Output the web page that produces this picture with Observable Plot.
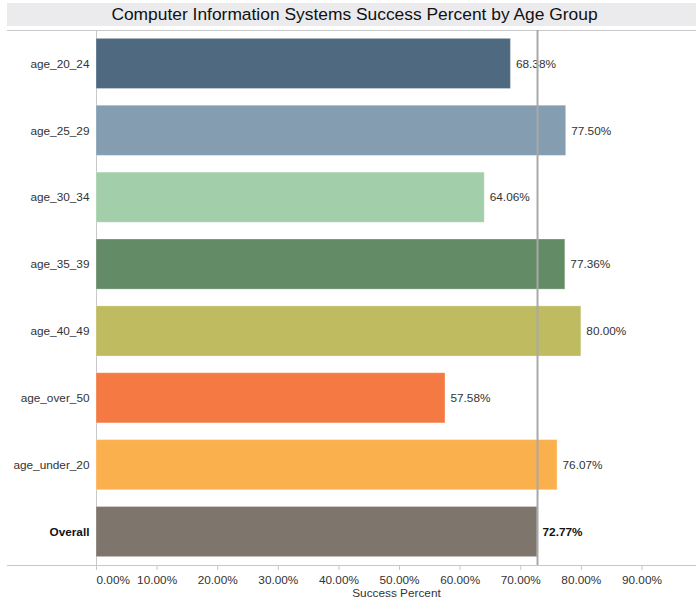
<!DOCTYPE html>
<html><head><meta charset="utf-8">
<script src="https://cdn.jsdelivr.net/npm/d3@7"></script>
<script src="https://cdn.jsdelivr.net/npm/@observablehq/plot@0.6"></script>
<style>
body{margin:0;background:#fff;font-family:"Liberation Sans",Arial,Helvetica,sans-serif;}
#wrap{width:696px;height:605px;overflow:hidden;}
#title{margin:3px 0 0 7px;height:23px;line-height:23px;background:#ebebee;text-align:center;padding-left:6px;font-size:17.4px;color:#111;box-sizing:border-box;white-space:nowrap;}
svg{display:block;}
</style></head>
<body><div id="wrap"><div id="title">Computer Information Systems Success Percent by Age Group</div><div id="chart"></div></div>
<script>
const groups = ["age_20_24","age_25_29","age_30_34","age_35_39","age_40_49","age_over_50","age_under_20","Overall"];
const values = [0.6838,0.7750,0.6406,0.7736,0.8000,0.5758,0.7607,0.7277];
const palette = ["#4f6980","#849db1","#a2ceaa","#638b66","#bfbb60","#f47942","#fbb04e","#7e756d"];
const xTicks = [0,0.1,0.2,0.3,0.4,0.5,0.6,0.7,0.8,0.9];
const overallValue = values[groups.indexOf("Overall")];
const data = groups.map((g,i)=>({group:g, value:values[i]}));
const fmt = d3.format(".2%");
const W = 696, H = 579, mL = 96, mT = 4, mB = 40;
const axisGray = "#c8c8c8";
const textCol = "#333";
const fs = 11.8;

const chart = Plot.plot({
  width: W, height: H,
  marginLeft: mL, marginRight: 0, marginTop: mT, marginBottom: mB,
  style: {fontFamily: '"Liberation Sans", Arial, sans-serif', fontSize: fs + "px", color: textCol, background: "#fff"},
  x: {domain: [0, 0.99], axis: null},
  y: {domain: groups, paddingInner: 0.25, paddingOuter: 0.125, round: false, axis: null},
  color: {domain: groups, range: palette},
  marks: [
    Plot.barX(data, {x: "value", y: "group", fill: "group", stroke: "#fff", strokeOpacity: 0.3, strokeWidth: 1}),
    Plot.text(data.filter(d=>d.group!=="Overall"), {x: "value", y: "group", text: d=>fmt(d.value), textAnchor: "start", dx: 5, fill: textCol, fontSize: fs}),
    Plot.text(data.filter(d=>d.group==="Overall"), {x: "value", y: "group", text: d=>fmt(d.value), textAnchor: "start", dx: 5, fill: "#111", fontSize: fs, fontWeight: "bold"}),
    Plot.ruleX([overallValue], {stroke: "#a9a9a9", strokeWidth: 2}),
    Plot.axisY(groups.filter(g=>g!=="Overall"), {tickSize: 0, tickPadding: 7, fill: textCol, fontSize: fs, label: null}),
    Plot.axisY(["Overall"], {tickSize: 0, tickPadding: 7, fill: "#111", fontSize: fs, fontWeight: "bold", label: null}),
    Plot.axisX(xTicks.slice(1), {tickSize: 5, tickPadding: 5, stroke: axisGray, fill: textCol, fontSize: fs, tickFormat: fmt, label: null}),
    Plot.axisX([0], {tickSize: 5, tickPadding: 5, stroke: axisGray, fill: textCol, fontSize: fs, tickFormat: fmt, textAnchor: "start", label: null}),
    Plot.text(["Success Percent"], {frameAnchor: "bottom", dy: 31, fill: textCol, fontSize: fs})
  ]
});

const svg = d3.select(chart);
const yTop = mT + 0.5, yBot = H - mB + 0.5;
const deco = svg.insert("g", ":first-child").attr("stroke", axisGray).attr("stroke-width", 1);
deco.append("line").attr("x1", 7).attr("x2", W).attr("y1", yTop).attr("y2", yTop);
deco.append("line").attr("x1", 7).attr("x2", W).attr("y1", yBot).attr("y2", yBot);
deco.append("line").attr("x1", mL + 0.5).attr("x2", mL + 0.5).attr("y1", mT).attr("y2", H - mB + 5);
document.getElementById("chart").appendChild(chart);
</script></body></html>
